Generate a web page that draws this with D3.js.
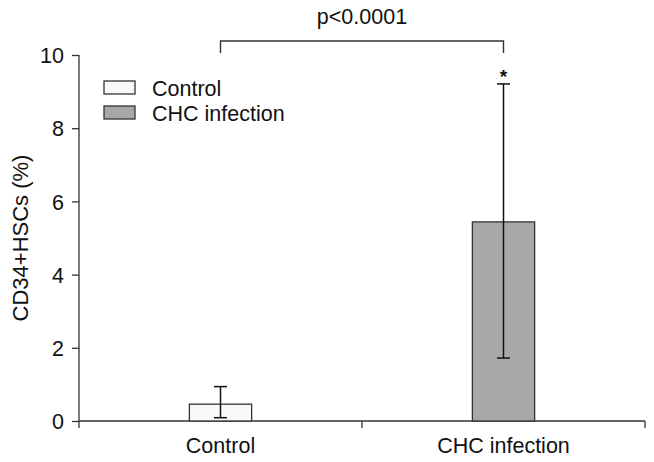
<!DOCTYPE html>
<html><head><meta charset="utf-8">
<script src="https://cdn.jsdelivr.net/npm/d3@7"></script>
<style>body{margin:0;background:#fff}text{font-family:"Liberation Sans",Arial,sans-serif;fill:#111}</style>
</head><body><svg id="c" width="654" height="462"></svg>
<script>
const categories = ["Control", "CHC infection"];
const means = [0.46, 5.44];
const errLow = [0.09, 1.72];
const errHigh = [0.94, 9.21];
const yTicks = [0, 2, 4, 6, 8, 10];
const fills = ["#f9f9f9", "#a8a8a8"];
const pText = "p<0.0001";

const FS = "21.5px";
const svg = d3.select("#c");
const m = {l: 79, r: 9, t: 55, b: 41};
const W = 654, H = 462;
const x = d3.scaleBand().domain(categories).range([m.l, W - m.r]).paddingInner(0.78).paddingOuter(0.39);
const y = d3.scaleLinear().domain([0, 10]).range([H - m.b, m.t]);
const stroke = "#333";

// y axis
const ya = svg.append("g").attr("transform", `translate(${m.l},0)`)
  .call(d3.axisLeft(y).tickValues(yTicks).tickSize(7).tickPadding(8));
ya.selectAll("text").style("font-size", FS).attr("fill", "#111").attr("dy", "0.36em");
ya.selectAll("path,line").attr("stroke", stroke).attr("stroke-width", 1.3);
ya.select(".domain").attr("d", `M0,${y(0)}V${y(10)}`);

// x axis
const xa = svg.append("g").attr("transform", `translate(0,${y(0)})`);
xa.append("line").attr("x1", m.l).attr("x2", W - m.r).attr("stroke", stroke).attr("stroke-width", 1.3);
const bounds = [m.l, (m.l + W - m.r) / 2, W - m.r];
xa.selectAll(".tk").data(bounds).enter().append("line")
  .attr("x1", d => d).attr("x2", d => d).attr("y1", 0).attr("y2", 7)
  .attr("stroke", stroke).attr("stroke-width", 1.3);
xa.selectAll(".lb").data(categories).enter().append("text")
  .attr("x", d => x(d) + x.bandwidth() / 2).attr("y", 32)
  .attr("text-anchor", "middle").style("font-size", FS).text(d => d);

// bars
svg.selectAll(".bar").data(categories).enter().append("rect")
  .attr("x", d => x(d)).attr("width", x.bandwidth())
  .attr("y", (d, i) => y(means[i])).attr("height", (d, i) => y(0) - y(means[i]))
  .attr("fill", (d, i) => fills[i]).attr("stroke", stroke).attr("stroke-width", 1.3);

// error bars
const cap = 6.5;
categories.forEach((c, i) => {
  const cx = x(c) + x.bandwidth() / 2;
  const g = svg.append("g").attr("stroke", "#111").attr("stroke-width", 1.5);
  g.append("line").attr("x1", cx).attr("x2", cx).attr("y1", y(errLow[i])).attr("y2", y(errHigh[i]));
  g.append("line").attr("x1", cx - cap).attr("x2", cx + cap).attr("y1", y(errLow[i])).attr("y2", y(errLow[i]));
  g.append("line").attr("x1", cx - cap).attr("x2", cx + cap).attr("y1", y(errHigh[i])).attr("y2", y(errHigh[i]));
});

// star
const c2 = x(categories[1]) + x.bandwidth() / 2;
svg.append("text").attr("x", c2).attr("y", y(errHigh[1]) - 1).attr("text-anchor", "middle")
  .style("font-size", "19px").style("font-weight", "bold").text("*");

// significance bracket
const c1 = x(categories[0]) + x.bandwidth() / 2;
svg.append("path").attr("d", `M${c1},53V41H${c2}V53`).attr("fill", "none").attr("stroke", stroke).attr("stroke-width", 1.4);
svg.append("text").attr("x", (c1 + c2) / 2).attr("y", 24).attr("text-anchor", "middle")
  .style("font-size", FS).text(pText);

// legend
const lg = svg.append("g").attr("transform", "translate(104,81)");
categories.forEach((c, i) => {
  lg.append("rect").attr("x", 0).attr("y", i * 25).attr("width", 31).attr("height", 13)
    .attr("fill", fills[i]).attr("stroke", stroke).attr("stroke-width", 1.3);
  lg.append("text").attr("x", 48).attr("y", i * 24.5 + 15).style("font-size", FS).text(c);
});

// y label
svg.append("text").attr("transform", `translate(28,238) rotate(-90)`).attr("text-anchor", "middle")
  .style("font-size", "22px").text("CD34+HSCs (%)");
</script></body></html>
